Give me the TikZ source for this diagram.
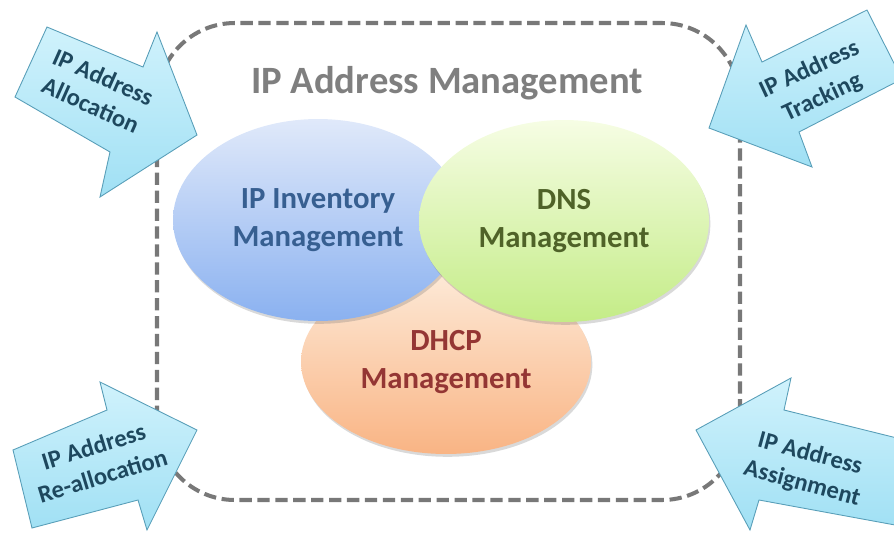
\documentclass[tikz,border=0pt]{standalone}
\usepackage{fontspec}
\setmainfont{Carlito}
\usetikzlibrary{shapes.geometric,shadows}

\definecolor{ipgray}{RGB}{127,127,127}
\definecolor{bordergray}{RGB}{120,120,120}
\definecolor{arrowtop}{RGB}{208,242,252}
\definecolor{arrowbot}{RGB}{160,224,244}
\definecolor{arrowedge}{RGB}{88,158,184}
\definecolor{arrowtext}{RGB}{30,72,94}
\definecolor{invtop}{RGB}{224,233,250}
\definecolor{invbot}{RGB}{138,177,240}
\definecolor{invtext}{RGB}{55,95,145}
\definecolor{dnstop}{RGB}{246,253,228}
\definecolor{dnsbot}{RGB}{196,236,135}
\definecolor{dnstext}{RGB}{79,98,40}
\definecolor{dhcptop}{RGB}{253,234,216}
\definecolor{dhcpbot}{RGB}{249,180,132}
\definecolor{dhcptext}{RGB}{148,54,52}

\tikzset{
  ipborder/.style={draw=bordergray, line width=2.3pt, dash pattern=on 7pt off 3.2pt, rounded corners=1.56cm},
  blob/.style={ellipse, minimum width=5.8cm, align=center,
    font=\fontsize{17.5}{22}\selectfont\bfseries,
    drop shadow={shadow xshift=0.8pt, shadow yshift=-1.6pt, opacity=0.25, fill=black!60}},
  blockarrow/.style={draw=arrowedge, line width=0.5pt, top color=arrowtop, bottom color=arrowbot},
  arrowlabel/.style={align=center, text=arrowtext, font=\fontsize{14}{17.5}\selectfont\bfseries},
}

\begin{document}
\begin{tikzpicture}[x=0.02cm, y=-0.02cm]
    \useasboundingbox (0,0) rectangle (894,532);
    \clip (0,0) rectangle (894,532);

    % frame
    \draw[ipborder] (157,23) rectangle (740,500);

    % the three areas
    \node[blob, minimum height=3.68cm, top color=dhcptop, bottom color=dhcpbot, text=dhcptext] (dhcp) at (446,362) {DHCP\\Management};
    \node[blob, minimum height=4.04cm, top color=invtop, bottom color=invbot, text=invtext] (inv) at (318,220) {IP Inventory\\Management};
    \node[blob, minimum height=4.04cm, top color=dnstop, bottom color=dnsbot, text=dnstext] (dns) at (564,221) {DNS\\Management};

    \node[font=\fontsize{22}{26}\selectfont\bfseries, text=ipgray] (title) at (447,83) {IP Address Management};

    % block arrows
    \draw[blockarrow] (47,27) -- (143,67) -- (157,32) -- (197,135) -- (100,197) -- (110,152) -- (15,97) -- cycle;
    \draw[blockarrow] (867,10) -- (762,62) -- (746,25) -- (709,128) -- (812,167) -- (799,132) -- (902,79) -- cycle;
    \draw[blockarrow] (13,450) -- (107,410) -- (100,382) -- (197,430) -- (147,530) -- (138,500) -- (32,528) -- cycle;
    \draw[blockarrow] (905,440) -- (784,410) -- (791,378) -- (696,430) -- (750,530) -- (759,500) -- (895,525) -- cycle;

    \node[arrowlabel, rotate=-24] (alloc) at (97,91) {IP Address\\Allocation};
    \node[arrowlabel, rotate=25] (track) at (816,84) {IP Address\\Tracking};
    \node[arrowlabel, rotate=17] (realloc) at (98,461) {IP Address\\Re-allocation};
    \node[arrowlabel, rotate=-15] (assign) at (806,469) {IP Address\\Assignment};
\end{tikzpicture}
\end{document}
